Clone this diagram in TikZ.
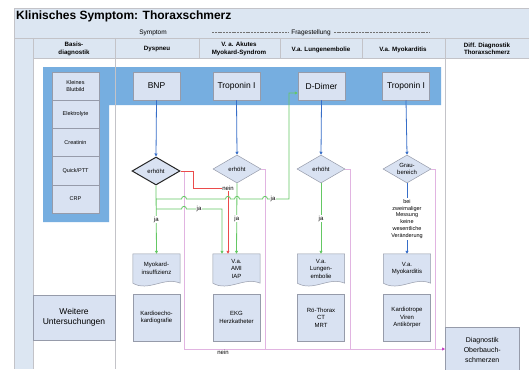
\documentclass[tikz,border=0pt]{standalone}
\usepackage{fontspec}
\setmainfont{Liberation Sans}
\usetikzlibrary{arrows.meta,shapes.geometric,calc}
\definecolor{hdr}{RGB}{220,230,242}
\definecolor{boxf}{RGB}{217,226,242}
\definecolor{boxd}{RGB}{150,155,170}
\definecolor{band}{RGB}{118,174,224}
\definecolor{gridc}{RGB}{195,195,200}
\definecolor{ablue}{RGB}{55,110,200}
\definecolor{agreen}{RGB}{100,200,100}
\definecolor{ared}{RGB}{235,75,75}
\definecolor{apink}{RGB}{225,180,225}
\definecolor{amag}{RGB}{200,60,200}
\newcommand\docpath[1]{\path[draw=boxd,fill=boxf,line width=0.5pt] (#1.north west) -- (#1.north east) -- (#1.south east) .. controls ($(#1.south east)+(-16,-7)$) and ($(#1.south west)+(16,9)$) .. (#1.south west) -- cycle;}
\begin{document}
\begin{tikzpicture}[x=1pt,y=-1pt,
  box/.style={draw=boxd,fill=boxf,line width=0.5pt,inner sep=1pt,align=center,font=\fontsize{6}{7.5}\selectfont,minimum width=47pt},
  topbox/.style={box,minimum height=28pt,font=\fontsize{8.5}{10}\selectfont},
  basbox/.style={box,minimum height=28.2pt,font=\fontsize{5.5}{6.8}\selectfont},
  lowbox/.style={box,minimum height=47pt},
  docbox/.style={inner sep=1pt,align=center,font=\fontsize{6}{7.5}\selectfont,minimum width=47pt,minimum height=29pt},
  dec/.style={diamond,draw=boxd,fill=boxf,line width=0.5pt,inner sep=0pt,aspect=1.7,minimum width=48pt,minimum height=28pt,align=center,font=\fontsize{6}{7}\selectfont},
  hdrtext/.style={align=center,font=\bfseries\fontsize{6.2}{7.5}\selectfont,inner sep=0pt},
  lbl/.style={font=\fontsize{6}{7}\selectfont,inner sep=0.6pt,fill=white},
  tip/.style={-{Triangle[length=3pt,width=3pt]}},
  bline/.style={draw=ablue,line width=0.8pt},
  gline/.style={draw=agreen,line width=0.8pt},
  rline/.style={draw=ared,line width=0.8pt},
  pline/.style={draw=apink,line width=0.6pt},
  gridl/.style={draw=gridc,line width=0.6pt},
  hdash/.style={draw=black!55,line width=0.4pt,dash pattern=on 2pt off 0.8pt},
]
\useasboundingbox (0,0) rectangle (529,369);
\path[fill=white] (0,0) rectangle (529,369);
% header
\path[draw=gridc,fill=hdr,line width=0.5pt] (14,8) rectangle (529,58);
\node[anchor=west,font=\bfseries\fontsize{12}{14}\selectfont,inner sep=0pt] (title) at (16,16) {Klinisches Symptom: Thoraxschmerz};
\node[font=\fontsize{6.5}{8}\selectfont,inner sep=0pt] (symp) at (153,32.5) {Symptom};
\node[font=\fontsize{6.5}{8}\selectfont,inner sep=0pt] (frage) at (311,32.5) {Fragestellung};
\coordinate (dl1) at (212,32.5);
\coordinate (dl2) at (430,32.5);
\draw[hdash] (dl1) -- ($(frage.west)+(-3,0)$);
\draw[hdash] ($(frage.east)+(3,0)$) -- (dl2);
\draw[gridl] (14,38) -- (529,38);
\foreach \xx in {33,115,199,280,362,445} \draw[gridl] (\xx,38) -- (\xx,58);
\node[hdrtext] (h1) at (74,49) {Basis-\\diagnostik};
\node[hdrtext] (h2) at (157,49.5) {Dyspneu};
\node[hdrtext] (h3) at (239,49) {V. a. Akutes\\Myokard-Syndrom};
\node[hdrtext] (h4) at (321,49.5) {V.a. Lungenembolie};
\node[hdrtext] (h5) at (403,49.5) {V.a. Myokarditis};
\node[hdrtext] (h6) at (487,49) {Diff. Diagnostik\\Thoraxschmerz};
% body frame
\path[fill=hdr] (14,58) rectangle (33,369);
\draw[gridl] (14,58) -- (14,369);
\draw[gridl] (33,58) -- (33,369);
% band
\path[fill=band] (43,67) -- (441,67) -- (441,105) -- (109,105) -- (109,222) -- (43,222) -- cycle;
\draw[gridl] (115,58) -- (115,369);
\draw[gridl] (445,58) -- (445,327);
% basis items
\node[basbox] (b1) at (75.5,86.1) {Kleines\\Blutbild};
\node[basbox] (b2) at (75.5,114.3) {Elektrolyte};
\node[basbox] (b3) at (75.5,142.5) {Creatinin};
\node[basbox] (b4) at (75.5,170.7) {Quick/PTT};
\node[basbox] (b5) at (75.5,198.9) {CRP};
\node[box,minimum width=82pt,minimum height=45pt,font=\fontsize{8.5}{10.5}\selectfont] (weit) at (74,317.5) {Weitere\\Untersuchungen};
% top row
\node[topbox] (bnp) at (156.5,86) {BNP};
\node[topbox] (trop) at (236.5,86) {Troponin I};
\node[topbox] (dd) at (321.5,86) {D-Dimer};
\node[topbox] (trop2) at (406,86) {Troponin I};
% decisions
\node[dec,draw=black!85,line width=1pt] (d1) at (156,171) {erhöht};
\node[dec] (d2) at (237,169) {erhöht};
\node[dec] (d3) at (321,169) {erhöht};
\node[dec] (d4) at (407,169) {Grau-\\bereich};
% document boxes
\node[docbox] (myo) at (156.5,268.5) {};
\docpath{myo}
\node[docbox] (myot) at (myo.center) {Myokard-\\insuffizienz};
\node[docbox] (ami) at (236.5,268.5) {};
\docpath{ami}
\node[docbox] (amit) at (ami.center) {V.a.\\AMI\\IAP};
\node[docbox] (lun) at (321,268.5) {};
\docpath{lun}
\node[docbox] (lunt) at (lun.center) {V.a.\\Lungen-\\embolie};
\node[docbox] (myk) at (407,268.5) {};
\docpath{myk}
\node[docbox] (mykt) at (myk.center) {V.a.\\Myokarditis};
% lower boxes
\node[lowbox] (l1) at (156.5,317.5) {Kardioecho-\\kardiografie};
\node[lowbox] (l2) at (236.5,317.5) {EKG\\Herzkatheter};
\node[lowbox] (l3) at (321,317.5) {Rö-Thorax\\CT\\MRT};
\node[lowbox] (l4) at (407,317.5) {Kardiotrope\\Viren\\Antikörper};
\node[box,minimum width=74pt,minimum height=45pt,font=\fontsize{7}{10}\selectfont,anchor=north west] (diag) at (445,327) {Diagnostik\\Oberbauch-\\schmerzen};
% pink "nein" lines
\coordinate (p1) at (184,349);
\draw[pline] (d1.east) -- (184,171) -- (p1);
\draw[pline] (d2.east) -- (265,169) -- (265,349);
\draw[pline] (d3.east) -- (350,169) -- (350,349);
\draw[pline] (d4.east) -- (435,169) -- (435,349);
\draw[pline,-{Triangle[length=3pt,width=3pt]},amag] (p1) -- (diag.west |- p1);
\draw[pline] (p1) -- ($(diag.west |- p1)+(-3,0)$);
\node[font=\fontsize{6}{7}\selectfont,inner sep=0.5pt,anchor=north] (nein2) at (223,349.3) {nein};
% blue arrows
\draw[bline,tip] (bnp.south) -- (d1.north);
\draw[bline,tip] (trop.south) -- (d2.north);
\draw[bline,tip] (dd.south) -- (d3.north);
\draw[bline,tip] (trop2.south) -- (d4.north);
\node[font=\fontsize{5.5}{6.9}\selectfont,align=center,inner sep=1pt] (vt) at (407,219) {bei\\zweimaliger\\Messung\\keine\\wesentliche\\Veränderung};
\draw[bline] (d4.south) -- (vt.north);
\draw[bline,tip] (vt.south) -- (myk.north);
% red nein
\coordinate (r1) at (193,171);
\coordinate (r2) at (193,188);
\coordinate (r3) at (228,188);
\draw[rline,tip] (d1.east) -- (r1) -- (r2) -- (r3) -- (ami.north -| r3);
\node[lbl] (nein1) at (r3) {nein};
% green lines
\draw[gline,tip] (d1.south) -- node[lbl] (ja1) {ja} (myo.north);
\draw[gline,tip] (d2.south) -- node[lbl] (ja2) {ja} (ami.north);
\draw[gline,tip] (d3.south) -- node[lbl] (ja3) {ja} (lun.north);
\coordinate (j1) at (156,199);
\coordinate (j2) at (156,209);
\coordinate (g1) at (289,199);
\coordinate (g2) at (222,209);
\coordinate (g3) at ($(dd.west)+(0,7)$);
\draw[gline,tip] (j1)
  -- (181.5,199) .. controls (181.5,195.5) and (186.5,195.5) .. (186.5,199)
  -- (225.5,199) .. controls (225.5,195.5) and (230.5,195.5) .. (230.5,199)
  -- (234.5,199) .. controls (234.5,195.5) and (239.5,195.5) .. (239.5,199)
  -- (262.5,199) .. controls (262.5,195.5) and (267.5,195.5) .. (267.5,199)
  -- (g1) -- (g1 |- g3) -- (g3);
\node[lbl] (ja4) at (273,199) {ja};
\draw[gline,tip] (j2)
  -- (181.5,209) .. controls (181.5,205.5) and (186.5,205.5) .. (186.5,209)
  -- (g2) -- (ami.north -| g2);
\node[lbl] (ja5) at (199,209) {ja};
\end{tikzpicture}
\end{document}
